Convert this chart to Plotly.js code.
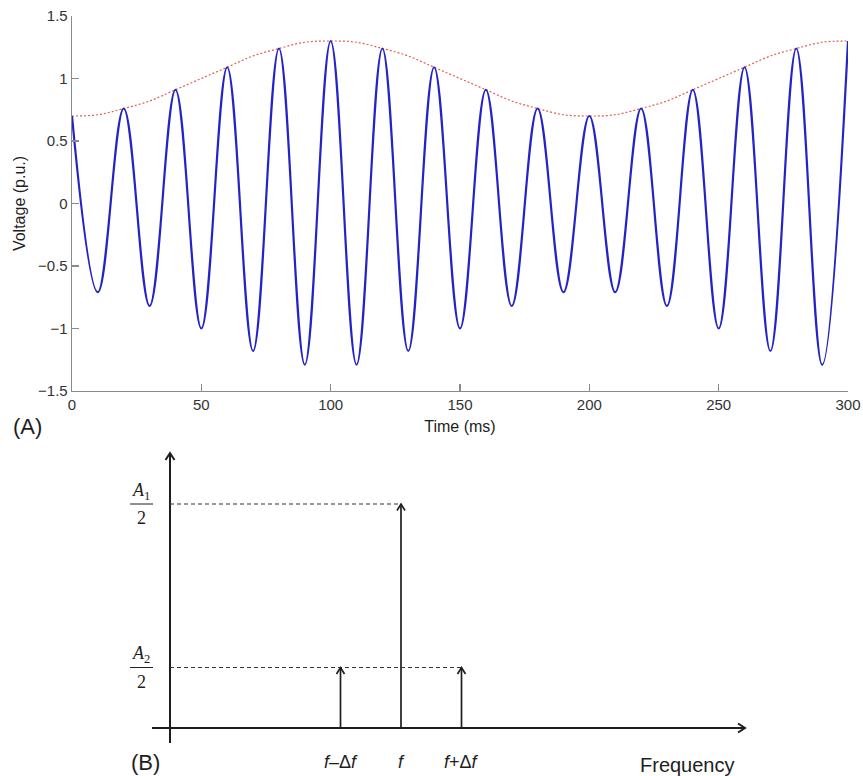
<!DOCTYPE html>
<html><head><meta charset="utf-8">
<script src="https://cdn.plot.ly/plotly-3.0.1.min.js"></script>
<style>html,body{margin:0;padding:0;background:#fff}</style>
</head><body><div id="chart" style="width:863px;height:776px"></div>
<script>
// ---------- (A) waveform: peaks and troughs ----------
const extremaTime = [0,10,20,30,40,50,60,70,80,90,100,110,120,130,140,150,160,170,180,190,200,210,220,230,240,250,260,270,280,290,300];
const extremaVoltage = [0.70,-0.71,0.76,-0.82,0.91,-1.00,1.09,-1.18,1.24,-1.29,1.30,-1.29,1.24,-1.18,1.09,-1.00,0.91,-0.82,0.76,-0.71,0.70,-0.71,0.76,-0.82,0.91,-1.00,1.09,-1.18,1.24,-1.29,1.30];
const envelopeTime = [0,10,20,30,40,50,60,70,80,90,100,110,120,130,140,150,160,170,180,190,200,210,220,230,240,250,260,270,280,290,300];
const envelopeVoltage = [0.70,0.71,0.76,0.82,0.91,1.00,1.09,1.18,1.24,1.29,1.30,1.29,1.24,1.18,1.09,1.00,0.91,0.82,0.76,0.71,0.70,0.71,0.76,0.82,0.91,1.00,1.09,1.18,1.24,1.29,1.30];
const xTickVals = [0,50,100,150,200,250,300];
const yTickVals = [-1.5,-1,-0.5,0,0.5,1,1.5];
const yTickText = ['\u22121.5','\u22121','\u22120.5','0','0.5','1','1.5'];

// ---------- (B) spectrum ----------
const freqLabels = ['<i>f</i>\u2013\u0394<i>f</i>', '<i>f</i>', '<i>f</i>+\u0394<i>f</i>'];
const freqPos = [-1, 0, 1];
const spectrumAmp = [0.27, 1.0, 0.27];
const ampLevelSub = ['1', '2'];      // A1/2 (carrier), A2/2 (side bands)
const ampLevelValue = [1.0, 0.27];
const ampLevelReach = [0, 1];        // dashed guide runs to this frequency position

const W = 863, H = 776;
const PX = x => x / W, PY = y => 1 - y / H;
// panel B geometry (pixel anchors -> x2/y2 units)
const fPix = 401, dfPix = 60.5, basePix = 728, unitPix = 224;
const bx = p => (p - fPix) / dfPix;
const by = p => (basePix - p) / unitPix;
const dxu = px => px / dfPix, dyu = px => px / unitPix;

const sans = 'Liberation Sans, Arial, Helvetica, sans-serif';
const serif = 'Liberation Serif, Times New Roman, serif';
const ink = '#1e1e1e';

const traces = [
  {x: envelopeTime, y: envelopeVoltage, xaxis:'x', yaxis:'y', mode:'lines',
   line:{color:'#e0604f', width:1.2, dash:'2px,2px', shape:'spline', smoothing:1}, hoverinfo:'skip'},
  {x: extremaTime, y: extremaVoltage, xaxis:'x', yaxis:'y', mode:'lines',
   line:{color:'#2424c6', width:2.2, shape:'spline', smoothing:1.09}, hoverinfo:'skip'}
];

// panel B: axes
const xv = bx(170);
const axX = [xv, xv, null, bx(152), bx(745)];
const axY = [by(743), by(453), null, 0, 0];
const ahw = 4.5, ahh = 7;
const axHeadX = [xv - dxu(ahw), xv, xv + dxu(ahw), null, bx(745) - dxu(ahh), bx(745), bx(745) - dxu(ahh)];
const axHeadY = [by(453) - dyu(ahh), by(453), by(453) - dyu(ahh), null, dyu(ahw), 0, -dyu(ahw)];
traces.push({x: axX, y: axY, xaxis:'x2', yaxis:'y2', mode:'lines', line:{color:ink, width:2}, hoverinfo:'skip'});
traces.push({x: axHeadX, y: axHeadY, xaxis:'x2', yaxis:'y2', mode:'lines', line:{color:ink, width:2}, hoverinfo:'skip'});

// spectral lines with arrow heads
const stemX = [], stemY = [], headX = [], headY = [];
const shw = 4, shh = 6.5;
freqPos.forEach((p,i)=>{
  stemX.push(p, p, null); stemY.push(0, spectrumAmp[i], null);
  headX.push(p - dxu(shw), p, p + dxu(shw), null);
  headY.push(spectrumAmp[i] - dyu(shh), spectrumAmp[i], spectrumAmp[i] - dyu(shh), null);
});
traces.push({x: stemX, y: stemY, xaxis:'x2', yaxis:'y2', mode:'lines', line:{color:ink, width:1.7}, hoverinfo:'skip'});
traces.push({x: headX, y: headY, xaxis:'x2', yaxis:'y2', mode:'lines', line:{color:ink, width:1.7}, hoverinfo:'skip'});

const annotations = [];
const shapes = [];

annotations.push({xref:'paper', yref:'paper', x:PX(28), y:PY(426), text:'(A)', showarrow:false,
  font:{family:sans, size:22, color:ink}, xanchor:'center', yanchor:'middle'});

freqPos.forEach((p,i)=>{
  annotations.push({xref:'x2', yref:'y2', x:p, y:by(762), text:freqLabels[i], showarrow:false,
    font:{family:sans, size:18, color:ink}, xanchor:'center', yanchor:'middle'});
});

ampLevelValue.forEach((lv,i)=>{
  shapes.push({type:'line', xref:'x2', yref:'y2', x0:xv, x1:ampLevelReach[i], y0:lv, y1:lv,
    line:{color:'#333', width:1, dash:'4px,3px'}});
  shapes.push({type:'line', xref:'x2', yref:'y2', x0:bx(130), x1:bx(153), y0:lv, y1:lv,
    line:{color:ink, width:1}});
  annotations.push({xref:'x2', yref:'y2', x:bx(141), y:lv, yshift:13, text:'<i>A</i><sub>'+ampLevelSub[i]+'</sub>',
    showarrow:false, font:{family:serif, size:18, color:ink}, xanchor:'center', yanchor:'middle'});
  annotations.push({xref:'x2', yref:'y2', x:bx(141), y:lv, yshift:-14, text:'2',
    showarrow:false, font:{family:serif, size:18, color:ink}, xanchor:'center', yanchor:'middle'});
});

annotations.push({xref:'x2', yref:'y2', x:bx(145), y:by(762), text:'(B)', showarrow:false,
  font:{family:sans, size:22, color:ink}, xanchor:'center', yanchor:'middle'});
annotations.push({xref:'x2', yref:'y2', x:bx(687), y:by(765), text:'Frequency', showarrow:false,
  font:{family:sans, size:20, color:ink}, xanchor:'center', yanchor:'middle'});

const axisGray = '#8a8a8a';
const layout = {
  width: W, height: H,
  margin:{l:0, r:0, t:0, b:0},
  paper_bgcolor:'#fff', plot_bgcolor:'rgba(0,0,0,0)',
  showlegend:false,
  xaxis:{domain:[PX(72), PX(848)], range:[0,300], anchor:'y', tickmode:'array', tickvals:xTickVals,
    title:{text:'Time (ms)', standoff:8, font:{family:sans, size:16, color:ink}},
    ticks:'inside', ticklen:7, tickcolor:axisGray, tickwidth:1.2, showline:true, linecolor:axisGray, linewidth:1.3,
    showgrid:false, zeroline:false, tickfont:{family:sans, size:15, color:'#333'}, fixedrange:true},
  yaxis:{domain:[PY(391), PY(16)], range:[-1.5,1.5], anchor:'x', tickmode:'array', tickvals:yTickVals, ticktext:yTickText,
    title:{text:'Voltage (p.u.)', standoff:8, font:{family:sans, size:16, color:ink}},
    ticks:'inside', ticklen:7, tickcolor:axisGray, tickwidth:1.2, showline:true, linecolor:axisGray, linewidth:1.3,
    showgrid:false, zeroline:false, tickfont:{family:sans, size:15, color:'#333'}, fixedrange:true},
  xaxis2:{domain:[0,1], range:[bx(0), bx(W)], anchor:'y2', visible:false, fixedrange:true},
  yaxis2:{domain:[0, PY(388)], range:[by(H), by(388)], anchor:'x2', visible:false, fixedrange:true},
  annotations: annotations,
  shapes: shapes
};

Plotly.newPlot('chart', traces, layout, {displayModeBar:false, staticPlot:true}).then(gd => {
  // drop empty placeholder text nodes Plotly leaves behind (no visible effect)
  gd.querySelectorAll('text').forEach(t => { if (!t.textContent.trim()) t.remove(); });
});
</script></body></html>
